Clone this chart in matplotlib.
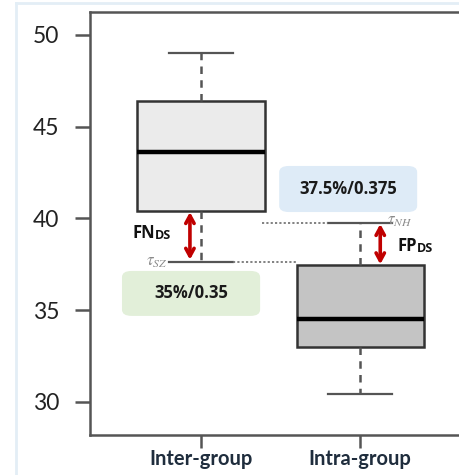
import matplotlib
matplotlib.use("Agg")
import matplotlib.pyplot as plt
from matplotlib.lines import Line2D
from matplotlib.patches import FancyBboxPatch

plt.rcParams["font.family"] = ["Lato", "DejaVu Sans"]

# ---- data -------------------------------------------------------------
GROUPS = ["Inter-group", "Intra-group"]
WHISLO = [37.6, 30.45]
Q1 = [40.4, 33.0]
MEDIAN = [43.6, 34.5]
Q3 = [46.4, 37.45]
WHISHI = [49.0, 39.75]
FACES = ["#ebebeb", "#c4c4c4"]
YTICKS = [30, 35, 40, 45, 50]
TAU_SZ = WHISLO[0]      # lower whisker of inter-group
TAU_NH = WHISHI[1]      # upper whisker of intra-group
FN_LABEL = "35%/0.35"
FP_LABEL = "37.5%/0.375"

POS = [1, 2]
GREY = "#555555"
RED = "#c00000"
ANN_FONT = ["Open Sans", "DejaVu Sans"]

fig = plt.figure(figsize=(4.59, 4.75), dpi=100)
ax = fig.add_axes([90 / 459, 40 / 475, 380 / 459, 423 / 475])

stats = [dict(label=g, whislo=lo, q1=a, med=m, q3=b, whishi=hi, fliers=[])
         for g, lo, a, m, b, hi in zip(GROUPS, WHISLO, Q1, MEDIAN, Q3, WHISHI)]
bp = ax.bxp(stats, positions=POS, widths=0.8, patch_artist=True,
            showfliers=False,
            boxprops=dict(edgecolor="#333333", linewidth=1.8),
            medianprops=dict(color="black", linewidth=3.2),
            whiskerprops=dict(color=GREY, linewidth=1.8, linestyle=(0, (3, 2.5))),
            capprops=dict(color=GREY, linewidth=1.6), capwidths=0.4)
for patch, fc in zip(bp["boxes"], FACES):
    patch.set_facecolor(fc)

# threshold guide lines (dotted extensions of the whisker caps)
ax.plot([1.2, 1.6], [TAU_SZ, TAU_SZ], color="#777777", lw=1.3, ls=(0, (1.2, 1.2)))
ax.plot([1.38, 1.8], [TAU_NH, TAU_NH], color="#777777", lw=1.3, ls=(0, (1.2, 1.2)))
ax.text(0.79, TAU_SZ, r"$\tau_{SZ}$", color="#8a8a8a", fontsize=12,
        ha="right", va="center", math_fontfamily="stix")
ax.text(2.17, TAU_NH + 0.1, r"$\tau_{NH}$", color="#8a8a8a", fontsize=12,
        ha="left", va="center", math_fontfamily="stix")

# red double arrows for FN / FP
arrow = dict(arrowstyle="<->,head_length=0.55,head_width=0.3",
             color=RED, lw=2.6, shrinkA=0, shrinkB=0)
ax.annotate("", xy=(0.93, TAU_SZ + 0.15), xytext=(0.93, Q1[0] - 0.05),
            arrowprops=arrow)
ax.annotate("", xy=(2.126, Q3[1] + 0.05), xytext=(2.126, TAU_NH - 0.05),
            arrowprops=arrow)

t = ax.text(0.57, 38.95, "FN", fontsize=12, fontweight="bold", ha="left",
            va="baseline", color="#111111", family=ANN_FONT)
ax.annotate("DS", xy=(1, 0), xycoords=t, fontsize=9, fontweight="bold",
            ha="left", va="bottom", color="#111111", family=ANN_FONT)
t = ax.text(2.235, 38.2, "FP", fontsize=12, fontweight="bold", ha="left",
            va="baseline", color="#111111", family=ANN_FONT)
ax.annotate("DS", xy=(1, 0), xycoords=t, fontsize=9, fontweight="bold",
            ha="left", va="bottom", color="#111111", family=ANN_FONT)

# rounded label boxes
for (x0, y0, w, h), fc, txt in [((0.503, 34.69, 0.868, 2.45), "#e2efd9", FN_LABEL),
                                ((1.491, 40.35, 0.867, 2.51), "#deebf7", FP_LABEL)]:
    ax.add_patch(FancyBboxPatch((x0, y0), w, h,
                                boxstyle="round,pad=0,rounding_size=0.06",
                                mutation_aspect=1 / 0.08 * 0.45,
                                fc=fc, ec="none", zorder=1))
    ax.text(x0 + w / 2, y0 + h / 2, txt, fontsize=12, fontweight="bold",
            ha="center", va="center", color="#1a1a1a", zorder=3,
            family=ANN_FONT)

ax.set_xlim(0.302, 2.69)
ax.set_ylim(28.2, 51.25)
ax.set_yticks(YTICKS)
ax.set_yticklabels([str(v) for v in YTICKS], fontsize=16.5, color="#222222")
ax.set_xticks(POS)
ax.set_xticklabels(GROUPS, fontsize=14.5, fontweight="bold", color="#1f2d3d")
ax.tick_params(axis="y", length=11, width=1.8, color=GREY, pad=11)
ax.tick_params(axis="x", length=9, width=1.8, color=GREY, pad=1)
for s in ["left", "top", "bottom"]:
    ax.spines[s].set_color(GREY)
    ax.spines[s].set_linewidth(1.8)
ax.spines["right"].set_visible(False)

# faint frame of the pasted screenshot
fig.add_artist(Line2D([16 / 459, 1], [1 - 3 / 475, 1 - 3 / 475],
                      color="#e3eef6", lw=2))
fig.add_artist(Line2D([16 / 459, 16 / 459], [0, 1 - 3 / 475],
                      color="#e3eef6", lw=2))

fig.savefig("out.png", dpi=100)
